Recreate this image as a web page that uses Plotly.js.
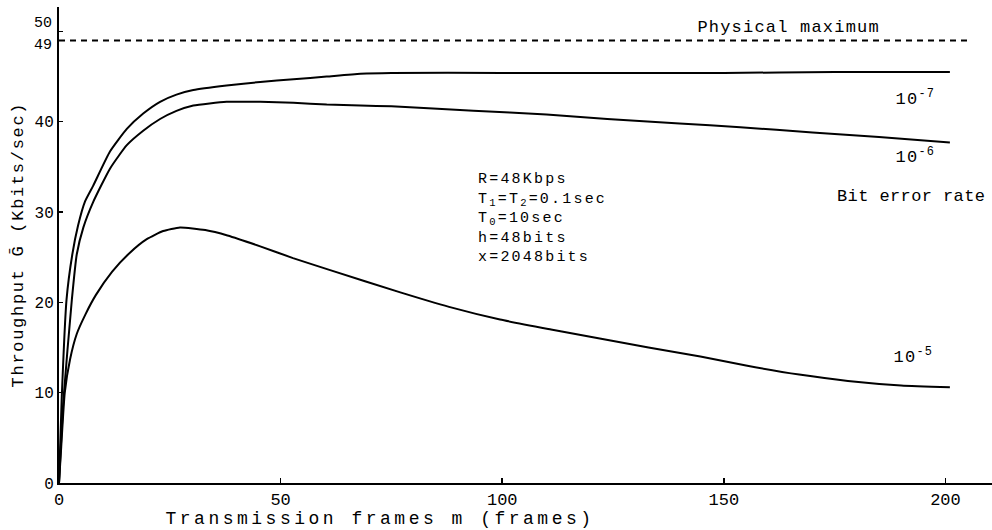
<!DOCTYPE html>
<html>
<head>
<meta charset="utf-8">
<script src="https://cdn.plot.ly/plotly-3.0.1.min.js"></script>
<style>html,body{margin:0;padding:0;background:#fff;}#chart{width:992px;height:530px;}</style>
</head>
<body>
<div id="chart"></div>
<script>
// Bit error rate 1e-7
var m7 = [0, 0.6, 1.7, 3, 4.3, 5.9, 7.7, 11.5, 15.3, 19, 22.8, 26.5, 30.3, 37.8, 45.4, 52.9, 60.4, 68, 75, 100, 125, 150, 175, 201];
var g7 = [0, 9.2, 20.3, 25.3, 28.5, 31.2, 32.9, 36.7, 39.2, 40.9, 42.2, 43.0, 43.5, 44.0, 44.4, 44.7, 45.0, 45.3, 45.4, 45.4, 45.4, 45.4, 45.5, 45.5];
// Bit error rate 1e-6
var m6 = [0, 1, 2.9, 4, 5.5, 7.7, 11.5, 15.3, 19, 22.8, 26.5, 30.3, 37.8, 45.4, 52.9, 60.4, 68, 75, 93.5, 110, 123.7, 140, 153.7, 170, 185, 201];
var g6 = [0, 9.2, 20.3, 25.3, 28.3, 31.1, 34.8, 37.4, 39.0, 40.3, 41.2, 41.8, 42.2, 42.2, 42.1, 41.9, 41.8, 41.7, 41.2, 40.8, 40.3, 39.8, 39.4, 38.8, 38.3, 37.7];
// Bit error rate 1e-5
var m5 = [0, 0.5, 1.3, 2.5, 4, 6, 8.3, 12, 16, 19.8, 23.5, 27.3, 33, 38, 45.4, 52.8, 61, 77, 88, 99.5, 111, 122, 133, 144.7, 155, 167, 178, 190, 201];
var g5 = [0, 4, 10, 13.7, 16.5, 18.7, 20.8, 23.4, 25.5, 27.0, 27.9, 28.3, 28.0, 27.4, 26.2, 24.9, 23.6, 21.1, 19.5, 18.1, 17.0, 16.0, 15.0, 14.0, 13.0, 12.0, 11.3, 10.8, 10.6];
// Physical maximum
var physMax = 49;
var physX = [0, 205];
var yTickVals = [0, 10, 20, 30, 40, 49, 50];
var yTickText = ["0", "10", "20", "30", "40", "", ""];
var yTopLabels = ["50", "49"];
var xTickVals = [0, 50, 100, 150, 200];
var xTickText = ["0", "50", "100", "150", "200"];
var params = ["R=48Kbps", "T<sub>1</sub>=T<sub>2</sub>=0.1sec", "T<sub>0</sub>=10sec", "h=48bits", "x=2048bits"];

var FONT = "Liberation Mono, Courier New, DejaVu Sans Mono, monospace";
var lineStyle = {color: "#000", width: 2, shape: "spline", smoothing: 0.5};

var traces = [
  {x: m7, y: g7, mode: "lines", line: lineStyle, hoverinfo: "skip"},
  {x: m6, y: g6, mode: "lines", line: lineStyle, hoverinfo: "skip"},
  {x: m5, y: g5, mode: "lines", line: lineStyle, hoverinfo: "skip"},
  {x: physX, y: [physMax, physMax], mode: "lines", line: {color: "#000", width: 2, dash: "6px,5px"}, hoverinfo: "skip"}
];

function ypx(py) { return (483 - py) / 9.03; }
function xpx(px) { return (px - 59) / 4.43; }

var ann = [];
var spacing = [];
function add(a, ls) { ann.push(a); spacing.push(ls); }
var txtFont = {family: FONT, size: 17, color: "#000"};
add({x: xpx(788), y: 50.4, xref: "x", yref: "y", text: "Physical maximum", showarrow: false, xanchor: "center", yanchor: "middle", font: txtFont}, 1.2);
add({x: xpx(915), y: ypx(98), xref: "x", yref: "y", text: "10<sup>-7</sup>", showarrow: false, xanchor: "center", yanchor: "middle", font: txtFont}, 1.2);
add({x: xpx(915), y: ypx(156), xref: "x", yref: "y", text: "10<sup>-6</sup>", showarrow: false, xanchor: "center", yanchor: "middle", font: txtFont}, 1.2);
add({x: xpx(835), y: ypx(197), xref: "x", yref: "y", text: "Bit error rate", showarrow: false, xanchor: "left", yanchor: "middle", align: "left", font: txtFont}, 0.4);
add({x: xpx(913), y: ypx(356), xref: "x", yref: "y", text: "10<sup>-5</sup>", showarrow: false, xanchor: "center", yanchor: "middle", font: txtFont}, 1.2);
add({x: xpx(476), y: ypx(169), xref: "x", yref: "y", text: params.join("<br>"), showarrow: false, xanchor: "left", yanchor: "top", align: "left", font: {family: FONT, size: 15, color: "#000"}}, 2.2);
add({x: (380 - 59) / 933, y: (483 - 519) / 476, xref: "paper", yref: "paper", text: "Transmission frames m (frames)", showarrow: false, xanchor: "center", yanchor: "middle", font: {family: FONT, size: 18, color: "#000"}}, 3.5);
add({x: (18 - 59) / 933, y: 0.5, xref: "paper", yref: "paper", text: "Throughput Ḡ (Kbits/sec)", textangle: -90, showarrow: false, xanchor: "center", yanchor: "middle", font: {family: FONT, size: 17, color: "#000"}}, 1.7);
add({x: 0, y: 49.75, xref: "paper", yref: "y", xshift: -5, text: yTopLabels[0], showarrow: false, xanchor: "right", yanchor: "bottom", font: {family: FONT, size: 15, color: "#000"}}, 0);
add({x: 0, y: 49.6, xref: "paper", yref: "y", xshift: -5, text: yTopLabels[1], showarrow: false, xanchor: "right", yanchor: "top", font: {family: FONT, size: 15, color: "#000"}}, 0);

var layout = {
  width: 992, height: 530,
  margin: {l: 59, r: 0, t: 7, b: 47, pad: 0},
  paper_bgcolor: "#fff", plot_bgcolor: "#fff",
  showlegend: false,
  xaxis: {range: [0, 210.5], showgrid: false, zeroline: false, showline: true, linecolor: "#000", linewidth: 2,
          ticks: "inside", ticklen: 5, tickwidth: 1.5, tickcolor: "#000",
          tickvals: xTickVals, ticktext: xTickText, tickfont: {family: FONT, size: 17, color: "#000"}},
  yaxis: {range: [0, 52.7], showgrid: false, zeroline: false, showline: true, linecolor: "#000", linewidth: 2,
          ticks: "inside", ticklen: 4, tickwidth: 1.5, tickcolor: "#000",
          tickvals: yTickVals, ticktext: yTickText, tickfont: {family: FONT, size: 16, color: "#000"}},
  annotations: ann
};

Plotly.newPlot("chart", traces, layout, {staticPlot: true, displayModeBar: false}).then(function (gd) {
  var groups = gd.querySelectorAll(".annotation");
  groups.forEach(function (g) {
    var idx = +g.getAttribute("data-index");
    var ls = spacing[idx];
    if (ls) {
      var t = g.querySelector(".annotation-text");
      if (t) t.setAttribute("letter-spacing", ls + "px");
    }
  });
});
</script>
</body>
</html>
